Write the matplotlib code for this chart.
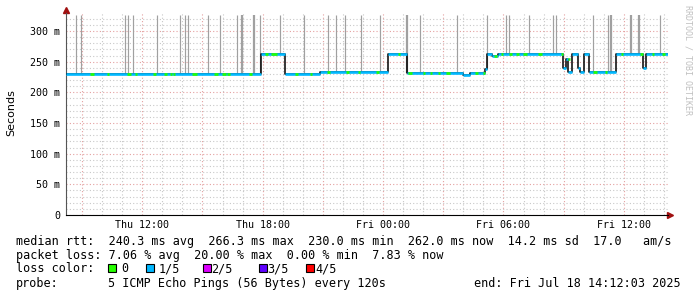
import numpy as np
import matplotlib
matplotlib.use('Agg')
import matplotlib.pyplot as plt
import matplotlib.dates as mdates
from matplotlib.ticker import MultipleLocator, FuncFormatter
from matplotlib.patches import Rectangle

W, H = 697, 297
MONO = 'DejaVu Sans Mono'

# start of the graph, all times below are hours after it
start = np.datetime64('2025-07-17T08:12:03')
span_h = 30.0

# median rtt (ms), step changes
step_h = [0.0, 9.74, 10.91, 12.68, 16.04, 16.97, 19.78, 20.13, 20.88, 20.98,
          21.23, 21.52, 24.76, 24.94, 25.04, 25.21, 25.51, 25.59, 25.81, 26.08,
          27.43, 28.75, 28.90]
step_ms = [230, 262, 230, 233, 263, 232, 229, 232, 238, 262,
           259, 262, 240, 255, 233, 262, 240, 233, 262, 233,
           263, 240, 262]

# stretches with 0 loss (green), rest is 1/5 loss (blue)
green_h = [(1.18, 1.38), (2.02, 2.16), (3.06, 3.22), (3.42, 3.56), (4.35, 4.50),
           (4.90, 5.05), (5.16, 5.30), (5.32, 5.45), (6.30, 6.55), (7.40, 7.55),
           (7.75, 7.95), (8.04, 8.15), (9.14, 9.25), (9.90, 10.08), (10.20, 10.52),
           (11.39, 11.58), (12.14, 12.28), (13.03, 13.17), (13.97, 14.08), (14.53, 14.67),
           (15.47, 15.58), (16.52, 16.66), (17.02, 17.26), (17.77, 17.91), (18.12, 18.26),
           (18.52, 18.66), (18.96, 19.15), (20.36, 20.55), (20.76, 20.88), (21.35, 21.46),
           (21.70, 21.80), (22.10, 22.24), (22.45, 22.55), (22.75, 22.99), (23.50, 23.74),
           (24.66, 24.76), (25.00, 25.12), (26.24, 26.48), (26.84, 26.98), (27.68, 27.78),
           (28.58, 28.75), (29.18, 29.28), (29.68, 29.87)]

# smoke spikes going off the top of the graph
spike_h = [0.50, 0.77, 2.96, 3.10, 3.35, 4.55, 5.68, 5.94, 6.09, 7.09, 7.69, 8.54,
           9.68, 10.68, 11.86, 13.07, 13.48, 13.90, 14.68, 15.67, 17.64, 19.50,
           20.96, 21.92, 22.07, 23.08, 24.28, 24.44, 26.27, 27.02, 29.62]
thick_spike_h = [8.79, 9.39, 16.99, 27.16, 28.15, 28.55]
spike_top = 326

blue = '#00b8ff'
green = '#26ff00'
loss_colors = ['#26ff00', '#00b8ff', '#dd00ff', '#5e00ff', '#ff0000']
loss_names = ['0', '1/5', '2/5', '3/5', '4/5']


def at(h):
    sec = np.round(np.asarray(h, dtype=float) * 3600).astype('int64')
    return start + sec.astype('timedelta64[s]')


def median_at(h):
    idx = np.searchsorted(step_h, h, side='right') - 1
    return np.asarray(step_ms)[idx]


def fx(x):
    return x / W


def fy(y):
    return 1 - y / H


fig = plt.figure(figsize=(W / 100, H / 100), dpi=100)
fig.patch.set_facecolor('white')
ax = fig.add_axes([fx(66), fy(215), 602 / W, 202 / H])
ax.set_xlim(at(0), at(span_h))
ax.set_ylim(0, 329.3)

# grid
ax.xaxis.set_major_locator(mdates.HourLocator(byhour=range(0, 24, 3)))
ax.xaxis.set_minor_locator(mdates.HourLocator())


def xfmt(v, pos):
    d = mdates.num2date(v)
    return d.strftime('%a %H:%M') if d.hour % 6 == 0 else ''


ax.xaxis.set_major_formatter(FuncFormatter(xfmt))
ax.yaxis.set_major_locator(MultipleLocator(50))
ax.yaxis.set_minor_locator(MultipleLocator(10))
ax.yaxis.set_major_formatter(FuncFormatter(lambda v, p: '0' if v == 0 else f'{v:.0f} m'))
ax.grid(which='minor', color='#c8c8c8', linestyle=(0, (1, 2)), lw=0.8)
ax.grid(which='major', color='#e4a0a0', linestyle=(0, (1, 2)), lw=0.8)
ax.set_axisbelow(True)
ax.tick_params(which='both', length=0)
ax.tick_params(axis='x', pad=3.5)
ax.tick_params(axis='y', pad=4)
for lab in ax.get_xticklabels() + ax.get_yticklabels():
    lab.set_fontfamily(MONO)
    lab.set_fontsize(7.2)

for s in ['top', 'right']:
    ax.spines[s].set_visible(False)
ax.spines['left'].set_color('#555555')
ax.spines['bottom'].set_color('black')

# smoke
ax.vlines(at(spike_h), median_at(spike_h), spike_top, color='#a0a0a0', lw=0.85, zorder=2)
ax.vlines(at(thick_spike_h), median_at(thick_spike_h), spike_top, color='#a0a0a0', lw=1.6, zorder=2)

# median line
ends_h = step_h[1:] + [span_h]
ax.step(at(step_h + [span_h]), step_ms + [step_ms[-1]], where='post', color='black', lw=1.1, zorder=3)
ax.hlines(step_ms, at(step_h), at(ends_h), color=blue, lw=1.9, zorder=4)
g0 = [a for a, b in green_h]
g1 = [b for a, b in green_h]
ax.hlines(median_at(g0), at(g0), at(g1), color=green, lw=1.9, zorder=5)

# axis arrows
ax.plot([0], [1 + 3 / 202], marker='^', ms=4.5, color='#a01010', transform=ax.transAxes, clip_on=False)
ax.plot([1 + 2 / 602], [0], marker='>', ms=4.5, color='#a01010', transform=ax.transAxes, clip_on=False)

# labels
fig.text(fx(11), fy(113), 'Seconds', rotation=90, ha='center', va='center', fontsize=8, family='DejaVu Sans')
fig.text(fx(688), fy(60), 'RRDTOOL / TOBI OETIKER', rotation=270, ha='center', va='center',
         fontsize=6, family=MONO, color='#c0c0c0')

lines = [
    'median rtt:  240.3 ms avg  266.3 ms max  230.0 ms min  262.0 ms now  14.2 ms sd  17.0   am/s',
    'packet loss: 7.06 % avg  20.00 % max  0.00 % min  7.83 % now',
]
fig.text(fx(16), fy(245), lines[0], fontsize=8.5, family=MONO, va='baseline')
fig.text(fx(16), fy(259), lines[1], fontsize=8.5, family=MONO, va='baseline')
fig.text(fx(16), fy(272.5), 'loss color:', fontsize=8.5, family=MONO, va='baseline')
box_x = [108, 146, 203, 259, 306]
text_x = [121.5, 159, 211, 267.5, 315]
for bx, tx, c, n in zip(box_x, text_x, loss_colors, loss_names):
    fig.add_artist(Rectangle((fx(bx), fy(272)), 8 / W, 8 / H, transform=fig.transFigure,
                             facecolor=c, edgecolor='black', lw=0.8))
    fig.text(fx(tx), fy(272.5), n, fontsize=8.5, family=MONO, va='baseline')
fig.text(fx(16), fy(287), 'probe:', fontsize=8.5, family=MONO, va='baseline')
fig.text(fx(107.6), fy(287), '5 ICMP Echo Pings (56 Bytes) every 120s', fontsize=8.5, family=MONO, va='baseline')
fig.text(fx(681), fy(287), 'end: Fri Jul 18 14:12:03 2025', fontsize=8.5, family=MONO, va='baseline', ha='right')

fig.savefig('out.png', dpi=100)
